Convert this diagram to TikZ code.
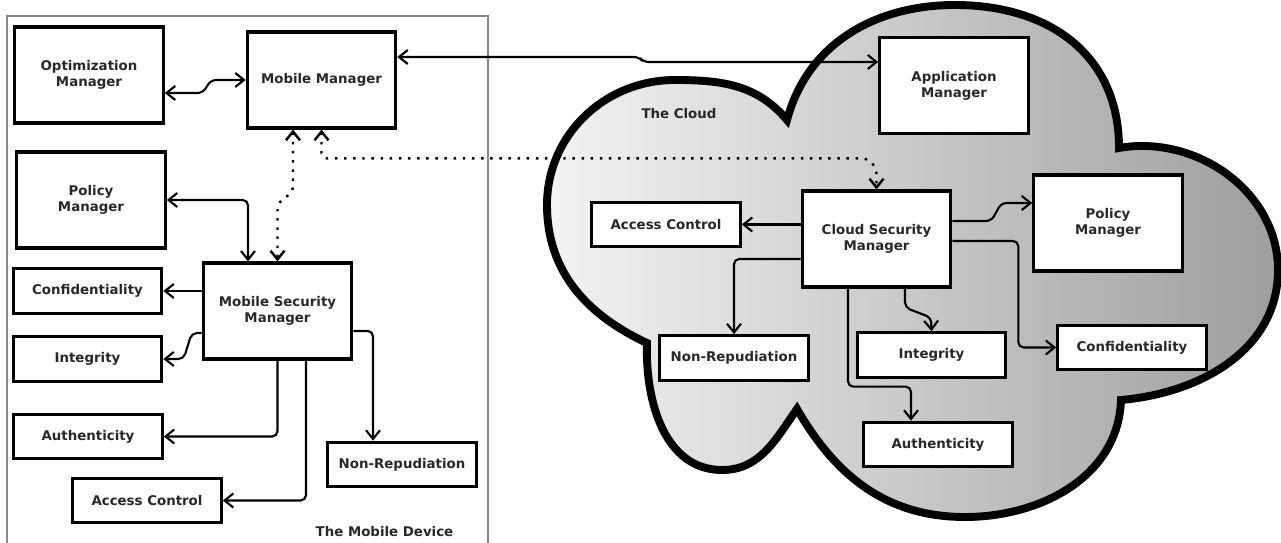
\documentclass[tikz,border=0pt]{standalone}
\usepackage{fontspec}
\setmainfont{DejaVu Sans}
\usetikzlibrary{positioning,arrows.meta,calc}
\definecolor{Frame}{RGB}{135,135,135}
\definecolor{CloudL}{RGB}{243,243,243}
\definecolor{CloudR}{RGB}{158,158,158}
\definecolor{Ink}{RGB}{40,40,40}

\begin{document}
\begin{tikzpicture}[x=.02cm,y=.02cm,
  font=\bfseries\fontsize{7.6}{9}\selectfont,text=Ink,
  bigbox/.style={draw,line width=1.8pt,fill=white,minimum width=2.97cm,minimum height=1.92cm,align=center,inner sep=1pt},
  smallbox/.style={bigbox,minimum height=.89cm},
  link/.style={line width=1.2pt,rounded corners=3pt,-{Straight Barb[length=5pt,width=8pt]}},
  both/.style={link,{Straight Barb[length=5pt,width=8pt]}-{Straight Barb[length=5pt,width=8pt]}},
  dots/.style={both,line width=1.4pt,dash pattern=on 1.4pt off 3.8pt}]
\useasboundingbox (0,0) rectangle (1281,-543);

% mobile device frame
\draw[Frame,line width=1.1pt] (7,-543) |- (488,-16) -- (488,-543);
\node (devlbl) at (384.5,-532) {The Mobile Device};

% cloud
\draw[line width=4.5pt,left color=CloudL,right color=CloudR]
  (647,-343) to[out=155,in=270] (547,-205) to[out=90,in=180] (675,-80)
  to[out=0,in=130] (787,-120) to[out=75,in=180] (955,-5)
  to[out=0,in=90,looseness=1.1] (1119,-148) to[out=10,in=90] (1278,-270)
  to[out=270,in=5] (1121,-400) to[out=268,in=0] (965,-517)
  to[out=180,in=300] (797,-409) to[out=235,in=0] (722,-470)
  to[out=180,in=268] (647,-343) -- cycle;
\node (cloudlbl) at (679,-114) {The Cloud};

% mobile side
\node[bigbox] (opt) at (89,-75) {Optimization\\Manager};
\node[bigbox] (mm) at (321.5,-80) {Mobile Manager};
\node[bigbox] (polL) at (91,-200) {Policy\\Manager};
\node[bigbox] (msm) at (277.5,-311) {Mobile Security\\Manager};
\foreach \n/\x/\y/\t in {confL/87.5/-291/Confidentiality,intL/87.5/-359/Integrity,
    authL/88/-436.5/Authenticity,acL/147/-500.5/Access Control,nrL/402/-464.5/Non-Repudiation}
  \node[smallbox] (\n) at (\x,\y) {\t};

% cloud side
\node[bigbox] (app) at (954,-85.5) {Application\\Manager};
\node[bigbox] (csm) at (876.5,-239) {Cloud Security\\Manager};
\node[bigbox] (polC) at (1108,-223) {Policy\\Manager};
\foreach \n/\x/\y/\t in {acC/666/-224.5/Access Control,nrC/734/-358/Non-Repudiation,
    intC/931.5/-355/Integrity,confC/1132/-347.5/Confidentiality,authC/938/-444.5/Authenticity}
  \node[smallbox] (\n) at (\x,\y) {\t};

\draw[both] ($(opt.east)+(0,-18)$) -- ++(38,0) -- ++(8,13) -- (mm.west);
\draw[both] ($(mm.east)+(0,23)$) -- ++(242,0) -- ++(4,-5) -- ($(app.west)+(0,23.5)$);
\draw[dots] ($(mm.south)+(-28.5,0)$) -- ++(0,-62) -- ++(-15.5,-12) -- (msm.north);
\draw[dots] (mm.south) |- ($(csm.north)+(-9,31)$) -- ++(9,-10) -- (csm.north);
\draw[both] (polL.east) -| ($(msm.north)+(-29.5,0)$);
\draw[link] ($(msm.west)+(0,20)$) -- (confL.east);
\draw[link] ($(msm.west)+(0,-22)$) -- ++(-10,0) -- ++(-8,-26) -- (intL.east);
\draw[link] (msm.south) |- (authL.east);
\draw[link] ($(msm.south)+(28.5,0)$) |- (acL.east);
\draw[link] ($(msm.east)+(0,-20)$) -| ($(nrL.north)+(-29,0)$);

\draw[link] (csm.west |- acC.east) -- (acC.east);
\draw[link] ($(csm.east)+(0,18)$) -- ++(39,0) -- ++(10,18) -- ($(polC.west)+(0,20)$);
\draw[link] ($(csm.east)+(0,-2)$) -- ++(66,0) |- (confC.west);
\draw[link] ($(csm.west)+(0,-20)$) -| (nrC.north);
\draw[link] ($(csm.south)+(28.5,0)$) -- ++(0,-19) -- ++(26,-10) -- (intC.north);
\draw[link] ($(csm.south)+(-28.5,0)$) |- ($(authC.north)+(-27,34)$) -- ($(authC.north)+(-27,0)$);
\end{tikzpicture}
\end{document}
